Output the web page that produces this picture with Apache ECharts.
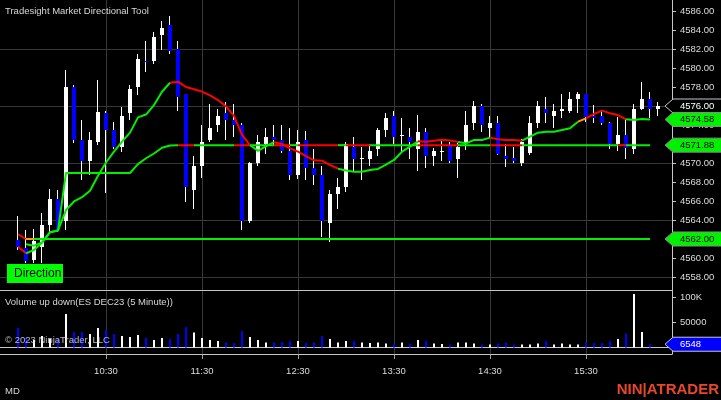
<!DOCTYPE html>
<html>
<head>
<meta charset="utf-8">
<script src="https://cdn.jsdelivr.net/npm/echarts@6/dist/echarts.min.js"></script>
<style>html,body{margin:0;padding:0;background:#000;}#c{width:721px;height:400px;}</style>
</head>
<body>
<div id="c"></div>
<script>
const times = ['09:35','09:40','09:45','09:50','09:55','10:00','10:05','10:10','10:15','10:20',
  '10:25','10:30','10:35','10:40','10:45','10:50','10:55','11:00','11:05','11:10',
  '11:15','11:20','11:25','11:30','11:35','11:40','11:45','11:50','11:55','12:00',
  '12:05','12:10','12:15','12:20','12:25','12:30','12:35','12:40','12:45','12:50',
  '12:55','13:00','13:05','13:10','13:15','13:20','13:25','13:30','13:35','13:40',
  '13:45','13:50','13:55','14:00','14:05','14:10','14:15','14:20','14:25','14:30',
  '14:35','14:40','14:45','14:50','14:55','15:00','15:05','15:10','15:15','15:20',
  '15:25','15:30','15:35','15:40','15:45','15:50','15:55','16:00','16:05','16:10',
  '16:15'];
const tickLabels = ['10:30','11:30','12:30','13:30','14:30','15:30'];

const opens = [4561.9,4561.05,4559.75,4561.2,4563.5,4566.2,4563.9,4578.0,4572.4,4570.2,
  4572.2,4575.3,4573.5,4571.7,4575.3,4578.0,4580.75,4580.7,4583.47,4584.5,
  4582.05,4577.25,4567.15,4569.7,4572.4,4574.0,4575.3,4574.55,4574.0,4563.9,
  4570.0,4572.0,4572.75,4572.42,4571.26,4568.74,4572.42,4569.51,4568.74,4563.68,
  4566.72,4567.5,4571.72,4570.4,4570.42,4571.5,4573.47,4574.95,4572.85,4572.72,
  4571.5,4573.3,4570.77,4571.2,4571.8,4570.42,4572.1,4574.25,4576.0,4573.72,
  4574.25,4570.74,4570.49,4570.03,4571.1,4574.25,4575.68,4574.95,4575.47,4575.5,
  4576.72,4577.25,4574.95,4574.9,4574.18,4572.0,4572.95,4571.45,4575.68,4576.74,
  4575.68];
const highs = [4564.4,4562.95,4563.05,4564.7,4567.3,4567.2,4579.8,4578.2,4574.5,4573.3,
  4578.7,4575.5,4574.35,4575.9,4578.2,4581.5,4582.8,4583.8,4585.0,4585.5,
  4582.8,4577.3,4570.75,4574.0,4576.2,4575.65,4576.45,4576.2,4574.2,4570.1,
  4572.95,4573.7,4574.0,4574.0,4573.7,4573.47,4573.4,4571.47,4569.68,4567.16,
  4568.45,4572.24,4572.77,4571.72,4571.96,4573.72,4575.3,4575.47,4574.77,4573.65,
  4575.1,4573.65,4571.54,4572.45,4572.2,4572.07,4575.48,4576.55,4576.17,4574.95,
  4574.95,4571.96,4571.72,4572.49,4574.95,4576.53,4576.98,4576.21,4577.3,4577.44,
  4577.44,4577.3,4576.1,4575.58,4574.28,4574.88,4574.65,4576.21,4578.49,4577.44,
  4576.45];
const lows = [4560.8,4559.45,4559.45,4559.45,4562.6,4562.7,4562.9,4572.1,4568.2,4568.7,
  4571.9,4566.8,4571.5,4571.2,4574.5,4577.2,4579.55,4580.4,4581.85,4581.5,
  4575.45,4565.9,4565.2,4568.45,4572.2,4573.3,4572.4,4572.75,4563.0,4563.65,
  4569.7,4571.0,4571.9,4571.1,4568.25,4568.3,4568.2,4567.68,4562.25,4561.72,
  4565.18,4566.98,4569.09,4568.21,4569.72,4570.77,4572.77,4571.96,4571.02,4570.42,
  4569.2,4569.51,4569.72,4570.22,4569.96,4568.47,4571.42,4573.47,4573.3,4572.77,
  4570.84,4569.54,4569.96,4569.72,4570.8,4573.72,4574.18,4573.72,4574.74,4575.3,
  4575.3,4574.3,4574.25,4574.0,4571.44,4571.3,4570.41,4570.95,4575.6,4574.7,
  4574.98];
const closes = [4561.2,4559.7,4561.8,4563.5,4566.2,4562.95,4578.0,4572.4,4570.2,4572.4,
  4575.4,4573.5,4571.7,4574.95,4577.8,4581.0,4580.6,4583.25,4584.17,4581.8,
  4577.0,4567.5,4569.7,4572.25,4573.7,4574.95,4574.55,4574.05,4563.9,4570.0,
  4572.25,4572.75,4572.42,4571.26,4568.74,4572.24,4569.51,4568.74,4563.9,4566.72,
  4567.5,4572.0,4570.42,4570.5,4571.26,4573.47,4574.77,4572.77,4572.95,4572.24,
  4573.3,4570.77,4571.26,4571.3,4570.21,4571.72,4574.0,4576.0,4574.05,4574.25,
  4571.0,4570.45,4570.24,4572.2,4574.25,4576.0,4575.3,4575.47,4575.68,4576.72,
  4577.25,4574.88,4574.77,4574.18,4572.03,4572.95,4571.54,4575.68,4576.74,4575.72,
  4576.0];

const volumes = [39000,20000,15000,23000,18000,18000,67000,31000,31000,27000,
  39000,35000,27000,23000,21000,25000,19000,15000,19000,17000,
  27000,41000,30000,19000,15000,13000,10000,9000,33000,21000,
  15000,10000,10000,11000,13000,13000,9000,10000,23000,17000,
  10000,13000,13000,10000,9000,10000,8000,8000,10000,8000,
  15000,13000,8000,7000,6000,10000,10000,8000,6000,6000,
  8000,10000,6000,6000,6000,8000,13000,6000,8000,6000,
  6000,9000,9000,9000,13000,17000,28000,107000,31000,6548];

// Directional tool lines (value per bar) and segment state (1 up, -1 down, 0 neutral)
const lineA = [4561.19,4560.49,4560.84,4561.6,4562.72,4562.9,4565.05,4565.95,4566.4,4567.07,
  4568.65,4570.05,4571.19,4572.25,4573.2,4574.8,4575.1,4576.1,4577.5,4578.45,
  4578.56,4578.0,4577.77,4577.51,4577.12,4576.63,4575.96,4574.95,4572.95,4571.89,
  4571.28,4571.77,4572.19,4572.0,4571.54,4571.19,4570.72,4570.28,4570.25,4569.79,
  4569.4,4569.22,4569.09,4569.09,4569.26,4569.37,4569.82,4570.32,4571.19,4571.72,
  4572.28,4572.24,4572.35,4572.45,4572.38,4572.2,4572.07,4572.42,4572.42,4572.67,
  4572.5,4572.42,4572.42,4572.35,4572.77,4573.19,4573.3,4573.3,4573.47,4573.65,
  4574.35,4574.7,4575.16,4575.51,4575.23,4575.05,4574.6,4574.53,4574.63,4574.58];
const stateA = [-1,
  1,1,1,1,1,1,1,1,1,1,1,1,1,1,1,1,1,1,
  -1,-1,-1,-1,-1,-1,-1,-1,-1,-1,
  1,1,1,
  -1,-1,-1,-1,-1,-1,-1,-1,
  1,1,1,1,1,1,1,1,1,1,
  -1,-1,-1,-1,-1,
  1,1,1,1,
  -1,-1,-1,-1,
  1,1,1,1,1,1,1,
  0,
  -1,-1,-1,-1,-1,
  1,1,1];

const lineB = [null,4561.44,4561.3,4561.65,4562.7,4562.9,
  4568.95,4568.95,4568.95,4568.95,4568.95,4568.95,4568.95,4568.95,4568.95,
  4569.88,4570.5,4571.0,4571.6,4571.85,
  4571.88,4571.88,4571.88,4571.88,4571.88,4571.88,4571.88,4571.88,4571.88,4571.88,
  4571.88,4571.88,4571.88,4571.88,4571.88,4571.88,4571.88,4571.88,4571.88,4571.88,
  4571.88,4571.88,4571.88,4571.88,4571.88,4571.88,4571.88,4571.88,4571.88,4571.88,
  4571.88,4571.88,4571.88,4571.88,4571.88,4571.88,4571.88,4571.88,4571.88,4571.88,
  4571.88,4571.88,4571.88,4571.88,4571.88,4571.88,4571.88,4571.88,4571.88,4571.88,
  4571.88,4571.88,4571.88,4571.88,4571.88,4571.88,4571.88,4571.88,4571.88,4571.88];
const stateB = [null,
  1,1,1,1,1,1,1,1,1,1,1,1,1,1,1,1,1,1,1,
  -1,-1,
  1,1,1,1,1,
  -1,-1,
  1,1,1,
  -1,-1,
  1,
  -1,-1,-1,-1,-1,
  1,
  -1,-1,-1,
  1,1,1,1,1,1,
  -1,-1,-1,-1,-1,
  1,1,1,1,
  -1,-1,-1,-1,
  1,1,1,1,1,1,1,1,1,1,1,1,
  -1,
  1,1,1];

const lineC = [4562.5,
  4562,4562,4562,4562,4562,4562,4562,4562,4562,4562,
  4562,4562,4562,4562,4562,4562,4562,4562,4562,4562,
  4562,4562,4562,4562,4562,4562,4562,4562,4562,4562,
  4562,4562,4562,4562,4562,4562,4562,4562,4562,4562,
  4562,4562,4562,4562,4562,4562,4562,4562,4562,4562,
  4562,4562,4562,4562,4562,4562,4562,4562,4562,4562,
  4562,4562,4562,4562,4562,4562,4562,4562,4562,4562,
  4562,4562,4562,4562,4562,4562,4562,4562,4562];
const stateC = [-1, 0,
  1,1,1,1,1,1,1,1,1,1,1,
  1,1,1,1,1,1,1,1,1,1,1,
  1,1,1,1,1,1,1,1,1,1,1,
  1,1,1,1,1,1,1,1,1,1,1,
  1,1,1,1,1,1,1,1,1,1,1,
  1,1,1,1,1,1,1,1,1,1,1,
  1,1,1,1,1,1,1,1,1,1,1];

const priceTicks = [4558,4560,4562,4564,4566,4568,4570,4572,4574,4576,4578,4580,4582,4584,4586];
const priceGridLines = [4558,4564,4570,4576,4582];
const volTicks = [50000,100000];

// ---------------- styling / layout ----------------
const FONT = '"Liberation Sans", Arial, sans-serif';
const UP = '#ffffff', DOWN = '#0000ff';
const STATE_COLOR = {'1': '#00f000', '-1': '#ff0000', '0': '#ff9a00'};
const LABEL = '#dcdcdc', LIGHT = '#c8c8c8', GRID = '#383838';
const xMin = -2.25, xMax = 81.75;
const priceMin = 4556.632, priceMax = 4587.158;
const volMin = -13000, volMax = 115000;
const tickIdx = tickLabels.map(t => times.indexOf(t));

const chart = echarts.init(document.getElementById('c'), null, {renderer: 'canvas', width: 721, height: 400});

const series = [];
series.push({
  type: 'custom', xAxisIndex: 0, yAxisIndex: 0, z: 2, animation: false, silent: true,
  data: closes.map((c, i) => [i, opens[i], c, lows[i], highs[i]]),
  encode: {x: 0, y: [1, 2, 3, 4]},
  renderItem: function (params, api) {
    const x = api.value(0), o = api.value(1), c = api.value(2), l = api.value(3), h = api.value(4);
    const pH = api.coord([x, h]), pL = api.coord([x, l]);
    const pO = api.coord([x, o]), pC = api.coord([x, c]);
    const cx = Math.round(pH[0]);
    let top = Math.round(Math.min(pO[1], pC[1])), bot = Math.round(Math.max(pO[1], pC[1]));
    if (bot - top < 1) bot = top + 1;
    const col = c >= o ? UP : DOWN;
    return {type: 'group', children: [
      {type: 'rect', shape: {x: cx - 1, y: Math.round(pH[1]), width: 1, height: Math.round(pL[1]) - Math.round(pH[1])}, style: {fill: '#ffffff'}},
      {type: 'rect', shape: {x: cx - 2, y: top, width: 4, height: bot - top}, style: {fill: col}}
    ]};
  }
});

series.push({
  type: 'bar', xAxisIndex: 1, yAxisIndex: 2, barWidth: 2, animation: false, silent: true,
  data: volumes.map((v, i) => ({value: [i, v], itemStyle: {color: closes[i] >= opens[i] ? UP : DOWN}}))
});

function addRuns(values, states) {
  let k = 0;
  while (k < values.length - 1) {
    if (values[k] == null || states[k] == null) { k++; continue; }
    const s = states[k];
    let e = k;
    while (e < values.length - 1 && states[e] === s) e++;
    const data = [];
    for (let j = k; j <= e; j++) data.push([j, values[j]]);
    series.push({
      type: 'line', xAxisIndex: 0, yAxisIndex: 0, data: data, z: 3,
      symbol: 'none', showSymbol: false, animation: false, silent: true,
      lineStyle: {width: 2, color: STATE_COLOR[String(s)]}
    });
    k = e;
  }
}
addRuns(lineC, stateC);
addRuns(lineB, stateB);
addRuns(lineA, stateA);

const axisFont = {color: LABEL, fontSize: 9.5, fontFamily: FONT};

chart.setOption({
  backgroundColor: '#000000',
  animation: false,
  grid: [
    {left: 0, top: 0, width: 672, height: 290, containLabel: false, outerBoundsMode: 'none'},
    {left: 0, top: 290, width: 672, height: 64, containLabel: false, outerBoundsMode: 'none'}
  ],
  xAxis: [
    {gridIndex: 0, type: 'value', min: xMin, max: xMax, position: 'bottom',
     axisLine: {show: true, onZero: false, lineStyle: {color: LIGHT}},
     axisTick: {show: false, customValues: tickIdx}, axisLabel: {show: false, customValues: tickIdx},
     splitLine: {show: true, lineStyle: {color: GRID, width: 1}}},
    {gridIndex: 1, type: 'value', min: xMin, max: xMax, position: 'bottom',
     axisLine: {show: true, onZero: true, lineStyle: {color: LIGHT}},
     axisTick: {show: false, customValues: tickIdx}, axisLabel: {show: false, customValues: tickIdx},
     splitLine: {show: true, lineStyle: {color: GRID, width: 1}}},
    {gridIndex: 1, type: 'value', min: xMin, max: xMax, position: 'bottom',
     axisLine: {show: true, onZero: false, lineStyle: {color: LIGHT}},
     axisTick: {show: true, length: 5, customValues: tickIdx, lineStyle: {color: '#a0a0a0'}},
     axisLabel: Object.assign({show: true, customValues: tickIdx, margin: 12,
       formatter: v => times[Math.round(v)]}, axisFont),
     splitLine: {show: false}}
  ],
  yAxis: [
    {gridIndex: 0, type: 'value', position: 'right', min: priceMin, max: priceMax,
     axisLine: {show: true, onZero: false, lineStyle: {color: LIGHT}},
     axisTick: {show: true, length: 4, customValues: priceTicks, lineStyle: {color: LIGHT}},
     axisLabel: Object.assign({customValues: priceTicks, margin: 8, formatter: v => Number(v).toFixed(2)}, axisFont),
     splitLine: {show: false}},
    {gridIndex: 0, type: 'value', position: 'right', min: priceMin, max: priceMax,
     axisLine: {show: false, onZero: false},
     axisTick: {show: false, customValues: priceGridLines},
     axisLabel: {show: false, customValues: priceGridLines},
     splitLine: {show: true, lineStyle: {color: GRID, width: 1}}},
    {gridIndex: 1, type: 'value', position: 'right', min: volMin, max: volMax,
     axisLine: {show: true, onZero: false, lineStyle: {color: LIGHT}},
     axisTick: {show: true, length: 4, customValues: volTicks, lineStyle: {color: LIGHT}},
     axisLabel: Object.assign({customValues: volTicks, margin: 8,
       formatter: v => v >= 100000 ? (v / 1000) + 'K' : String(v)}, axisFont),
     splitLine: {show: false}}
  ],
  series: series
});

// ---- right-edge value markers and texts ----
function marker(y, text, fill, stroke, textColor) {
  return {type: 'group', z: 100, children: [
    {type: 'polygon', z: 100, shape: {points: [[665, y], [673, y - 7], [722, y - 7], [722, y + 7], [673, y + 7]]},
     style: {fill: fill, stroke: stroke, lineWidth: 1}},
    {type: 'text', z: 101, x: 680, y: y, style: {text: text, fill: textColor, fontSize: 9.5, fontFamily: FONT, verticalAlign: 'middle'}}
  ]};
}
const py = v => chart.convertToPixel({yAxisIndex: 0}, v);
const vy = v => chart.convertToPixel({yAxisIndex: 2}, v);
const lastClose = closes[closes.length - 1];
const lastA = lineA[lineA.length - 1], lastB = lineB[lineB.length - 1], lastC = lineC[lineC.length - 1];
const lastVol = volumes[volumes.length - 1];

const txt = (x, y, text, extra) => ({type: 'text', x: x, y: y, z: 50,
  style: Object.assign({text: text, fill: '#d8d8d8', fontSize: 9.5, fontFamily: FONT, verticalAlign: 'middle'}, extra || {})});

chart.setOption({
  graphic: [
    txt(5, 11, 'Tradesight Market Directional Tool'),
    txt(5, 302, 'Volume up down(ES DEC23 (5 Minute))'),
    txt(5, 340, '\u00a9 2023 NinjaTrader, LLC', {fill: 'rgba(215,215,215,0.85)'}),
    txt(5, 391, 'MD'),
    txt(719, 390, 'NIN|ATRADER', {fill: '#e8472a', fontSize: 15, fontWeight: 'bold', align: 'right'}),
    {type: 'group', z: 60, children: [
      {type: 'rect', z: 60, shape: {x: 7, y: 264, width: 56, height: 19}, style: {fill: '#00ff00'}},
      {type: 'text', z: 61, x: 14, y: 274, style: {text: 'Direction', fill: '#000000', fontSize: 12, fontFamily: FONT, verticalAlign: 'middle'}}
    ]},
    marker(py(lastClose), lastClose.toFixed(2), '#000000', '#c8c8c8', '#ffffff'),
    marker(py(lastA), lastA.toFixed(2), STATE_COLOR[String(stateA[stateA.length - 1])], '#8a8a8a', '#000000'),
    marker(py(lastB), lastB.toFixed(2), STATE_COLOR[String(stateB[stateB.length - 1])], '#8a8a8a', '#000000'),
    marker(py(lastC), lastC.toFixed(2), STATE_COLOR[String(stateC[stateC.length - 1])], '#8a8a8a', '#000000'),
    marker(vy(lastVol), String(lastVol), '#0000ff', '#c8c8c8', '#ffffff')
  ]
});
</script>
</body>
</html>
